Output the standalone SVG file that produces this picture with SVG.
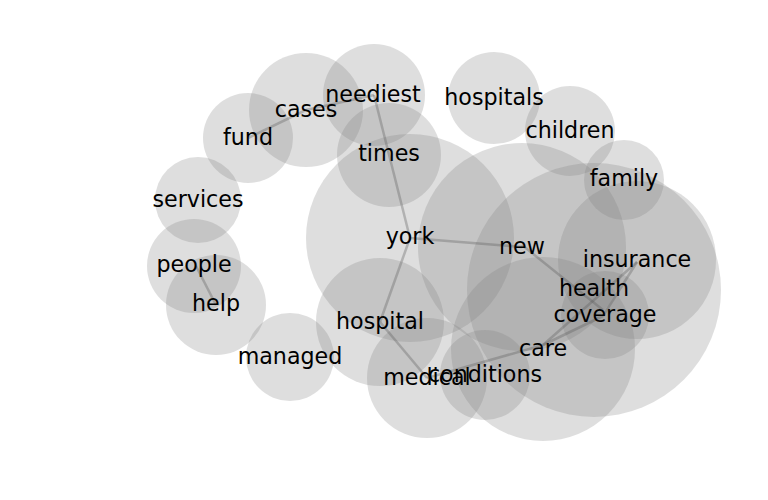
<svg xmlns="http://www.w3.org/2000/svg" width="768" height="500" viewBox="0 0 768 500">
<style>
.n circle{fill:#808080;fill-opacity:0.26}
.n text{font-family:"DejaVu Sans",sans-serif;font-size:22.2px;fill:#000;text-anchor:middle}
#edges line{stroke:#5a5a5a;stroke-opacity:0.34;stroke-width:2.5}
</style>
<rect width="768" height="500" fill="#fff"/>
<g class="n">
<g id="n-neediest"><circle cx="374" cy="95" r="51"/></g>
<g id="n-cases"><circle cx="306" cy="110" r="57"/></g>
<g id="n-fund"><circle cx="248" cy="138" r="45"/></g>
<g id="n-times"><circle cx="389" cy="155" r="52"/></g>
<g id="n-services"><circle cx="198" cy="200" r="43"/></g>
<g id="n-people"><circle cx="194" cy="266" r="47"/></g>
<g id="n-help"><circle cx="216" cy="305" r="50"/></g>
<g id="n-managed"><circle cx="290" cy="357" r="44"/></g>
<g id="n-hospital"><circle cx="380" cy="322" r="64"/></g>
<g id="n-york"><circle cx="410" cy="238" r="104"/></g>
<g id="n-new"><circle cx="522" cy="247" r="104"/></g>
<g id="n-hospitals"><circle cx="494" cy="98" r="46"/></g>
<g id="n-children"><circle cx="570" cy="131" r="45"/></g>
<g id="n-family"><circle cx="624" cy="180" r="40"/></g>
<g id="n-insurance"><circle cx="637" cy="260" r="79"/></g>
<g id="n-health"><circle cx="594" cy="290" r="127"/></g>
<g id="n-coverage"><circle cx="605" cy="315" r="44"/></g>
<g id="n-care"><circle cx="543" cy="349" r="92"/></g>
<g id="n-conditions"><circle cx="485" cy="375" r="45"/></g>
<g id="n-medical"><circle cx="427" cy="378" r="60"/></g>
</g>
<g id="edges">
<line x1="248" y1="138" x2="306" y2="110"/>
<line x1="306" y1="110" x2="374" y2="95"/>
<line x1="374" y1="95" x2="410" y2="238"/>
<line x1="410" y1="238" x2="522" y2="247"/>
<line x1="410" y1="238" x2="380" y2="322"/>
<line x1="380" y1="322" x2="427" y2="378"/>
<line x1="427" y1="378" x2="543" y2="345"/>
<line x1="543" y1="345" x2="603" y2="316"/>
<line x1="543" y1="345" x2="637" y2="262"/>
<line x1="637" y1="262" x2="603" y2="316"/>
<line x1="522" y1="245" x2="603" y2="310"/>
<line x1="196" y1="266" x2="216" y2="305"/>
</g>
<g class="n">
<text x="373" y="102">neediest</text>
<text x="306" y="117">cases</text>
<text x="248" y="145">fund</text>
<text x="389" y="161">times</text>
<text x="198" y="207">services</text>
<text x="194" y="272">people</text>
<text x="216" y="311">help</text>
<text x="290" y="364">managed</text>
<text x="380" y="329">hospital</text>
<text x="410" y="244">york</text>
<text x="522" y="254">new</text>
<text x="494" y="105">hospitals</text>
<text x="570" y="138">children</text>
<text x="624" y="186">family</text>
<text x="637" y="267">insurance</text>
<text x="594" y="296">health</text>
<text x="605" y="322">coverage</text>
<text x="543" y="356">care</text>
<text x="485" y="382">conditions</text>
<text x="427" y="385">medical</text>
</g>
</svg>
